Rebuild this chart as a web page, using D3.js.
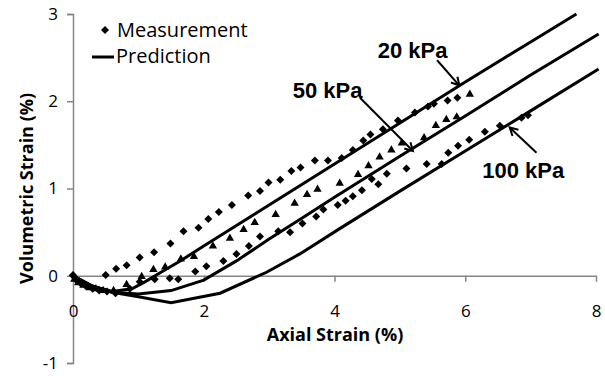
<!DOCTYPE html>
<html>
<head>
<meta charset="utf-8">
<script src="https://cdn.jsdelivr.net/npm/d3@7"></script>
<style>
  body { margin: 0; background: #fff; }
  svg { display: block; }
  .tick text { font-family: "Open Sans", sans-serif; font-size: 17px; fill: #000; }
</style>
</head>
<body>
<div id="chart"></div>
<script>
// values (axial %, volumetric %)
var xTicks = [0, 2, 4, 6, 8];
var yTicks = [-1, 0, 1, 2, 3];

var pred20 = [[0,0],[0.3,-0.12],[0.6,-0.18],[0.9,-0.15],[1.1,-0.07],[1.3,0.02],[1.64,0.17],[2,0.34],
  [3,0.81],[4,1.28],[5,1.75],[6,2.22],[7,2.68],[7.7,3.0]];
var pred50 = [[0,0],[0.3,-0.12],[0.6,-0.19],[1.0,-0.21],[1.5,-0.17],[2.0,-0.05],[2.5,0.17],[3.0,0.42],
  [3.5,0.66],[4,0.9],[5,1.37],[6,1.83],[7,2.3],[8.04,2.77]];
var pred100 = [[0,0],[0.3,-0.12],[0.6,-0.19],[1.0,-0.24],[1.5,-0.31],[2.25,-0.2],[2.96,0.04],[3.47,0.25],
  [4.08,0.54],[5,0.97],[6,1.43],[7,1.89],[8.04,2.37]];

var meas20 = [[0,0.01],[0.5,0.01],[0.66,0.08],[0.82,0.12],[1.02,0.21],[1.24,0.27],[1.49,0.37],[1.69,0.51],
  [1.92,0.55],[2.07,0.65],[2.23,0.73],[2.43,0.81],[2.68,0.92],[2.86,0.97],[2.99,1.07],[3.17,1.10],
  [3.34,1.20],[3.48,1.24],[3.7,1.32],[3.9,1.32],[4.11,1.35],[4.28,1.44],[4.44,1.55],[4.55,1.62],
  [4.74,1.68],[4.97,1.78],[5.23,1.87],[5.43,1.94],[5.52,1.97],[5.73,2.01],[5.88,2.04]];
var meas50 = [[0.02,-0.04],[0.08,-0.08],[0.16,-0.11],[0.26,-0.14],[0.35,-0.15],[0.46,-0.17],[0.62,-0.17],
  [0.82,-0.10],[1.05,-0.01],[1.23,0.07],[1.41,0.10],[1.65,0.19],[1.85,0.22],[2.14,0.34],[2.40,0.43],
  [2.61,0.53],[2.78,0.61],[3.10,0.70],[3.39,0.83],[3.58,0.93],[3.74,0.99],[4.08,1.06],[4.36,1.16],
  [4.52,1.26],[4.69,1.36],[4.87,1.44],[5.03,1.52],[5.37,1.58],[5.55,1.72],[5.71,1.79],[5.87,1.82],[6.07,2.08]];
var meas100 = [[0,0],[0.05,-0.05],[0.12,-0.09],[0.2,-0.12],[0.3,-0.15],[0.4,-0.17],[0.52,-0.18],[0.65,-0.2],
  [0.87,-0.15],[1.02,-0.07],[1.25,-0.04],[1.48,-0.03],[1.61,-0.04],[1.87,0.05],[2.04,0.11],[2.3,0.17],
  [2.5,0.25],[2.69,0.34],[2.86,0.45],[3.14,0.51],[3.32,0.5],[3.51,0.6],[3.72,0.68],[3.83,0.76],
  [4.05,0.81],[4.17,0.86],[4.28,0.91],[4.42,0.98],[4.57,1.11],[4.67,1.05],[4.8,1.17],[5.1,1.23],
  [5.41,1.28],[5.64,1.28],[5.74,1.41],[5.89,1.49],[6.06,1.56],[6.3,1.65],[6.53,1.72],[6.86,1.81],[6.96,1.84]];

// annotation labels: text anchor and arrow from/to, in data units
var notes = [
  {label: "20 kPa",  at: [4.66, 2.5],  from: [5.57, 2.47], to: [5.91, 2.18]},
  {label: "50 kPa",  at: [3.36, 2.04], from: [4.39, 2.04], to: [5.20, 1.43]},
  {label: "100 kPa", at: [6.26, 1.12], from: [7.09, 1.41], to: [6.68, 1.70]}
];

var width = 605, height = 376;
var axisColor = "#868686";

var svg = d3.select("#chart").append("svg")
    .attr("width", width)
    .attr("height", height);

var x = d3.scaleLinear().domain([0, 8]).range([73, 596]);
var y = d3.scaleLinear().domain([-1, 3]).range([363, 14]);

// y axis
var yAxis = svg.append("g")
    .attr("transform", "translate(" + x(0) + ",0)")
    .call(d3.axisLeft(y).tickValues(yTicks).tickSize(6).tickPadding(10)
        .tickFormat(function(d) { return String(d); }));
yAxis.select(".domain").attr("stroke", axisColor).attr("stroke-width", 1.5);
yAxis.selectAll(".tick line").attr("stroke", axisColor).attr("stroke-width", 1.5);
yAxis.selectAll(".tick text").attr("x", -15);

// x axis crossing at y = 0
var xAxis = svg.append("g")
    .attr("transform", "translate(0," + y(0) + ")")
    .call(d3.axisBottom(x).tickValues(xTicks).tickSize(6).tickSizeOuter(0).tickPadding(23));
xAxis.select(".domain").attr("stroke", axisColor).attr("stroke-width", 1.5);
xAxis.selectAll(".tick line").attr("stroke", axisColor).attr("stroke-width", 1.5);

// axis titles
svg.append("text")
    .attr("x", 335)
    .attr("y", 341)
    .attr("text-anchor", "middle")
    .style("font-family", "'Open Sans', sans-serif")
    .style("font-size", "18px")
    .style("font-weight", "bold")
    .text("Axial Strain (%)");

svg.append("text")
    .attr("transform", "translate(33," + y(1) + ") rotate(-90)")
    .attr("text-anchor", "middle")
    .style("font-family", "'Open Sans', sans-serif")
    .style("font-size", "18px")
    .style("font-weight", "bold")
    .text("Volumetric Strain (%)");

// prediction lines
var line = d3.line()
    .x(function(d) { return x(d[0]); })
    .y(function(d) { return y(d[1]); });

svg.selectAll(".pred")
    .data([pred20, pred50, pred100])
    .enter().append("path")
    .attr("class", "pred")
    .attr("d", line)
    .attr("fill", "none")
    .attr("stroke", "#000")
    .attr("stroke-width", 3);

// measurement markers
var diamond = d3.symbol().type(d3.symbolSquare).size(32);
var triangle = d3.symbol().type(d3.symbolTriangle).size(30);

function drawPoints(data, shape, rot) {
    svg.append("g").selectAll("path")
        .data(data)
        .enter().append("path")
        .attr("d", shape)
        .attr("transform", function(d) {
            return "translate(" + x(d[0]) + "," + y(d[1]) + ") rotate(" + rot + ")";
        })
        .attr("fill", "#000");
}
drawPoints(meas20, diamond, 45);
drawPoints(meas100, diamond, 45);
drawPoints(meas50, triangle, 0);

// annotations
var note = svg.selectAll(".note")
    .data(notes)
    .enter().append("g")
    .attr("class", "note");

note.append("text")
    .attr("x", function(d) { return x(d.at[0]); })
    .attr("y", function(d) { return y(d.at[1]); })
    .style("font-family", "'Liberation Sans', Arial, sans-serif")
    .style("font-size", "22px")
    .style("font-weight", "bold")
    .text(function(d) { return d.label; });

note.append("line")
    .attr("x1", function(d) { return x(d.from[0]); })
    .attr("y1", function(d) { return y(d.from[1]); })
    .attr("x2", function(d) { return x(d.to[0]); })
    .attr("y2", function(d) { return y(d.to[1]); })
    .attr("stroke", "#000")
    .attr("stroke-width", 2);

// open arrow heads
note.append("path")
    .attr("d", function(d) {
        var x1 = x(d.from[0]), y1 = y(d.from[1]), x2 = x(d.to[0]), y2 = y(d.to[1]);
        var a = Math.atan2(y2 - y1, x2 - x1), len = 9, spread = 0.5;
        return "M" + (x2 - len * Math.cos(a - spread)) + "," + (y2 - len * Math.sin(a - spread)) +
            "L" + x2 + "," + y2 +
            "L" + (x2 - len * Math.cos(a + spread)) + "," + (y2 - len * Math.sin(a + spread));
    })
    .attr("fill", "none")
    .attr("stroke", "#000")
    .attr("stroke-width", 2);

// legend
var legend = svg.append("g").attr("class", "legend");
legend.append("path")
    .attr("d", diamond)
    .attr("transform", "translate(105,30) rotate(45)")
    .attr("fill", "#000");
legend.append("text")
    .attr("x", 117)
    .attr("y", 37)
    .style("font-family", "'Open Sans', sans-serif")
    .style("font-size", "20px")
    .text("Measurement");
legend.append("line")
    .attr("x1", 92).attr("x2", 114)
    .attr("y1", 57).attr("y2", 57)
    .attr("stroke", "#000")
    .attr("stroke-width", 3);
legend.append("text")
    .attr("x", 116)
    .attr("y", 63)
    .style("font-family", "'Open Sans', sans-serif")
    .style("font-size", "20px")
    .text("Prediction");
</script>
</body>
</html>
